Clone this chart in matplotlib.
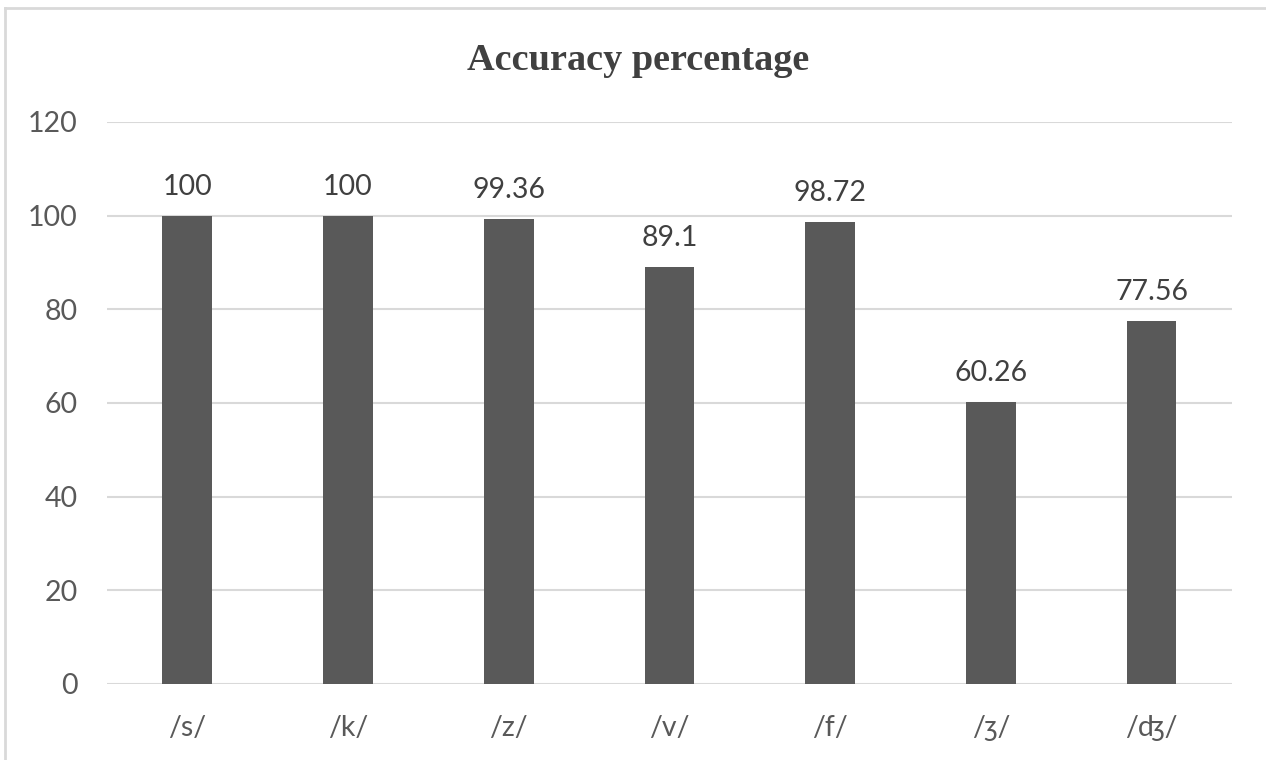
import matplotlib.pyplot as plt
from matplotlib.lines import Line2D

categories = ["/s/", "/k/", "/z/", "/v/", "/f/", "/ʒ/", "/ʤ/"]
accuracy = [100, 100, 99.36, 89.1, 98.72, 60.26, 77.56]
value_labels = ["100", "100", "99.36", "89.1", "98.72", "60.26", "77.56"]
yticks = [0, 20, 40, 60, 80, 100, 120]

txt = "#595959"
plt.rcParams['font.family'] = ['Lato', 'DejaVu Sans']

fig = plt.figure(figsize=(12.66, 7.6), dpi=100)
ax = fig.add_axes([0.0845, 0.1, 0.8886, 0.7395])

x = range(len(categories))
bars = ax.bar(x, accuracy, width=0.31, color="#595959", zorder=3)
for b, lab in zip(bars, value_labels):
    ax.annotate(lab, (b.get_x() + b.get_width() / 2, b.get_height()),
                xytext=(0, 11), textcoords="offset points",
                ha="center", va="bottom", fontsize=20.5, color="#404040")

ax.set_xlim(-0.5, len(categories) - 0.5)
ax.set_ylim(0, 120)
ax.set_yticks(yticks)
ax.set_xticks(list(x))
ax.set_xticklabels(categories)
ax.grid(axis="y", color="#d9d9d9", linewidth=1.5, zorder=0)
for s in ax.spines.values():
    s.set_visible(False)
ax.tick_params(length=0, labelsize=20.5, labelcolor=txt)
ax.tick_params(axis="y", pad=21)
ax.tick_params(axis="x", pad=22)

fig.text(0.504, 0.921, "Accuracy percentage", ha="center", va="center",
         fontsize=27.5, fontweight="bold", family="Liberation Serif", color="#404040")

# chart frame (top and left visible)
fig.add_artist(Line2D([0.0043, 1], [0.9895, 0.9895], color="#d9d9d9", lw=2))
fig.add_artist(Line2D([0.0043, 0.0043], [0, 0.9895], color="#d9d9d9", lw=2))

fig.savefig("out.png", dpi=100)
